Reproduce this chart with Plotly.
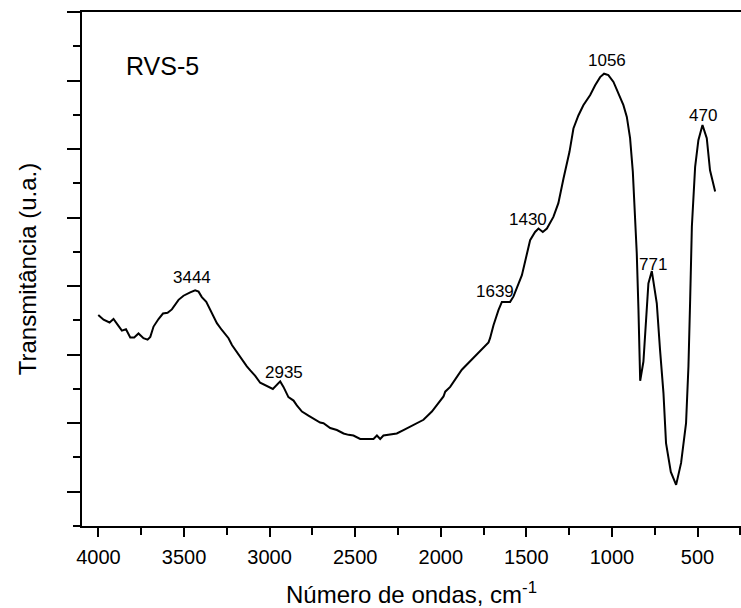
import numpy as np
import plotly.graph_objects as go

# FTIR spectrum of RVS-5 (wavenumber in cm-1, transmittance in arbitrary units)
wavenumber = [4001, 3970, 3935, 3912, 3883, 3863, 3839, 3814, 3791, 3766, 3737, 3713, 3697, 3678,
              3649, 3623, 3596, 3571, 3532, 3503, 3464, 3435, 3415, 3396, 3370, 3337, 3308, 3279,
              3240, 3220, 3182, 3133, 3113, 3084, 3055, 3016, 2981, 2938, 2919, 2890, 2860, 2841,
              2811, 2773, 2734, 2705, 2685, 2646, 2607, 2568, 2539, 2510, 2471, 2393, 2373, 2354,
              2335, 2315, 2286, 2257, 2218, 2160, 2101, 2052, 2004, 1984, 1974, 1945, 1877, 1721,
              1712, 1692, 1663, 1643, 1595, 1575, 1526, 1497, 1478, 1449, 1429, 1404, 1380, 1342,
              1313, 1283, 1248, 1225, 1196, 1167, 1127, 1098, 1069, 1046, 1021, 991, 962, 933, 913,
              894, 878, 865, 855, 845, 835, 816, 800, 787, 767, 748, 738, 719, 699, 684, 656, 625,
              596, 567, 553, 543, 533, 514, 495, 471, 446, 427, 397]
transmittance = [25.8, 25.1, 24.7, 25.2, 24.2, 23.5, 23.7, 22.5, 22.5, 23.1, 22.4, 22.2, 22.6, 24.1,
                 25.2, 26.0, 26.1, 26.6, 28.0, 28.6, 29.1, 29.4, 29.2, 28.4, 27.7, 26.0, 24.6, 23.6,
                 22.4, 21.4, 20.0, 18.3, 17.7, 16.9, 15.9, 15.4, 15.0, 16.1, 15.3, 13.8, 13.3, 12.6,
                 11.7, 11.1, 10.5, 10.1, 10.0, 9.3, 9.0, 8.5, 8.3, 8.2, 7.7, 7.7, 8.2, 7.7,
                 8.2, 8.3, 8.4, 8.5, 9.0, 9.8, 10.5, 11.7, 13.2, 13.9, 14.6, 15.3, 17.8, 21.8,
                 22.4, 24.3, 26.5, 27.7, 27.7, 28.5, 31.6, 34.5, 36.7, 37.9, 38.4, 37.9, 38.4, 40.1,
                 42.1, 45.7, 49.6, 53.0, 54.9, 56.4, 57.9, 59.3, 60.5, 61.0, 60.8, 59.8, 58.1, 56.4, 54.7,
                 51.6, 46.7, 39.4, 34.8, 26.5, 16.2, 19.0, 25.5, 30.4, 32.2, 29.4, 27.5, 20.7, 14.4, 7.1, 2.9, 1.0,
                 4.2, 10.0, 18.3, 28.0, 38.7, 47.4, 51.3, 53.5, 51.6, 46.9, 43.8]

peak_labels = [3444, 2935, 1639, 1430, 1056, 771, 470]
x_tick_values = [4000, 3500, 3000, 2500, 2000, 1500, 1000, 500]
sample_name = "RVS-5"

FONT = "Liberation Sans, Arial, sans-serif"

fig = go.Figure()
fig.add_trace(go.Scatter(x=wavenumber, y=transmittance, mode="lines",
                         line=dict(color="black", width=2), showlegend=False,
                         hoverinfo="skip"))

# peak label offsets (pixels) relative to the curve at the labelled wavenumber
label_shift = {3444: (-2, 13), 2935: (3, 10), 1639: (-8, 10), 1430: (-10, 9),
               1056: (5, 15), 771: (2, 9), 470: (0, 10)}
xs = np.array(wavenumber[::-1], dtype=float)
ys = np.array(transmittance[::-1], dtype=float)
for p in peak_labels:
    yv = float(np.interp(p, xs, ys))
    dx, dy = label_shift[p]
    fig.add_annotation(x=p, y=yv, text=str(p), showarrow=False,
                       xshift=dx, yshift=dy,
                       font=dict(family=FONT, size=17, color="black"))

# sample name, placed in the upper-left corner of the plot area
fig.add_annotation(x=0.122, y=0.895, xref="paper", yref="paper", text=sample_name,
                   xanchor="center", yanchor="middle",
                   showarrow=False, font=dict(family=FONT, size=25, color="black"))

fig.update_layout(
    width=741, height=608,
    margin=dict(l=82, r=0, t=12, b=82),
    paper_bgcolor="white", plot_bgcolor="white",
    font=dict(family=FONT, color="black"),
    xaxis=dict(
        range=[4096, 246], showgrid=False, zeroline=False, automargin=False,
        showline=True, linecolor="black", linewidth=2, mirror=True,
        ticks="outside", ticklen=9, tickwidth=2, tickcolor="black",
        tickvals=x_tick_values, ticktext=[str(v) for v in x_tick_values],
        tickfont=dict(family=FONT, size=20, color="black"),
        ticklabelstandoff=3,
        minor=dict(dtick=250, tick0=0, ticks="outside", ticklen=7, tickwidth=2,
                   tickcolor="black", showgrid=False),
        title=dict(text="Número de ondas, cm<sup>-1</sup>",
                   font=dict(family=FONT, size=24, color="black"), standoff=19),
    ),
    yaxis=dict(
        range=[-5, 70], showgrid=False, zeroline=False, automargin=False,
        showline=True, linecolor="black", linewidth=2,
        ticks="outside", ticklen=13, tickwidth=2, tickcolor="black",
        tick0=0, dtick=10, showticklabels=False,
        minor=dict(dtick=5, tick0=0, ticks="outside", ticklen=7, tickwidth=2,
                   tickcolor="black", showgrid=False),
        title=dict(text="Transmitância (u.a.)",
                   font=dict(family=FONT, size=24, color="black"), standoff=24),
    ),
)

fig.write_html("out.html", config={"displayModeBar": False},
               post_script="document.body.style.margin='0px';")
